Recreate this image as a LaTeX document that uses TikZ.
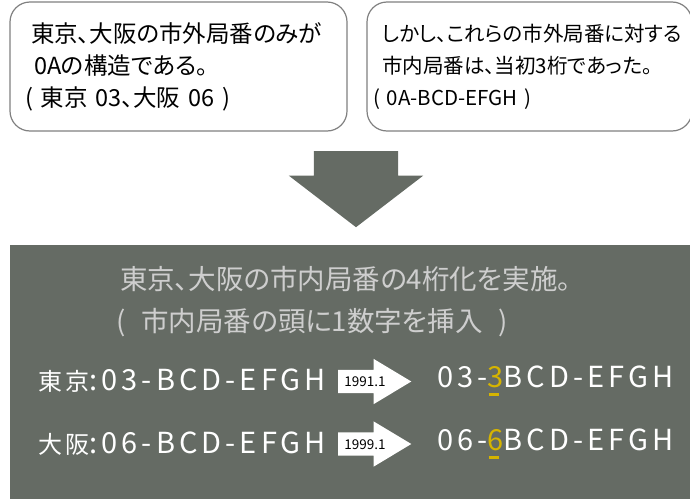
\documentclass[tikz,border=0pt]{standalone}
\usepackage{fontspec}
\setmainfont{Noto Sans CJK JP}[RawFeature=+palt]
\newfontfamily\rowfont{Noto Sans CJK JP}[LetterSpace=14]
\usetikzlibrary{shapes.arrows}
\definecolor{slate}{RGB}{101,107,100}
\definecolor{framegray}{RGB}{128,128,128}
\definecolor{titlegray}{RGB}{206,206,206}
\definecolor{hiyellow}{RGB}{214,180,0}
\newcommand\markdigit[1]{{\color{hiyellow}\setbox0\hbox{#1}\rlap{\hbox to \wd0{\hspace{1pt}\rule[-9pt]{0.65\wd0}{3pt}\hss}}\box0}}
\newcommand\citysize[1]{{\fontsize{24}{24}\selectfont #1}}

\begin{document}
\begin{tikzpicture}[x=1pt, y=-1pt,
		note/.style={draw=framegray, line width=1.2pt, rounded corners=20pt, align=left, minimum height=129pt},
		row/.style={text=white, anchor=west, inner sep=0pt, font=\rowfont\fontsize{29}{29}\selectfont},
		arrowtag/.style={single arrow, fill=white, anchor=tail, single arrow tip angle=62, single arrow head extend=11pt, inner xsep=6pt, inner ysep=6.5pt, text height=10pt, text depth=0pt, font=\fontsize{13.5}{13.5}\selectfont}]
		\useasboundingbox (0,0) rectangle (690,498);
		\node [note, inner xsep=15pt, text width=307pt, font=\fontsize{23.5}{32}\selectfont] (tollold) at (178.5,66.5) {\hspace*{6pt}東京、大阪の市外局番のみが\\ \hspace*{9pt}0Aの構造である。\\( 東京 03、大阪 06 )};
		\node [note, inner xsep=6pt, text width=313pt, font=\fontsize{20.5}{32}\selectfont] (localold) at (529.5,66.5) {\hspace*{9pt}しかし、これらの市外局番に対する\\ \hspace*{9pt}市内局番は、当初3桁であった。\\( 0A-BCD-EFGH )};
		\node [single arrow, fill=slate, rotate=-90, anchor=tail, inner xsep=0pt, inner ysep=42pt, single arrow head extend=25pt, single arrow tip angle=105, minimum height=76pt] (down) at (356,151) {};
		\node [fill=slate, minimum width=682pt, minimum height=256pt, inner sep=0pt] (panel) at (351,373) {};
		\node [text=titlegray, anchor=west, align=left, inner sep=0pt, font=\fontsize{27.5}{42}\selectfont] (plan) at (116,301.5) {\hspace*{4pt}東京、大阪の市内局番の4桁化を実施。\\(\hspace{16pt}市内局番の頭に1数字を挿入\hspace{16pt})};
		\node [row] (tokyoold) at (38,381) {\citysize{東京}:03-BCD-EFGH};
		\node [arrowtag] (tokyostep) at (338,381.5) {1991.1};
		\node [row] (tokyonew) at (437,381) {03-\markdigit{3}BCD-EFGH};
		\node [row] (osakaold) at (38,444) {\citysize{大阪}:06-BCD-EFGH};
		\node [arrowtag] (osakastep) at (338,444) {1999.1};
		\node [row] (osakanew) at (437,444) {06-\markdigit{6}BCD-EFGH};
\end{tikzpicture}
\end{document}
